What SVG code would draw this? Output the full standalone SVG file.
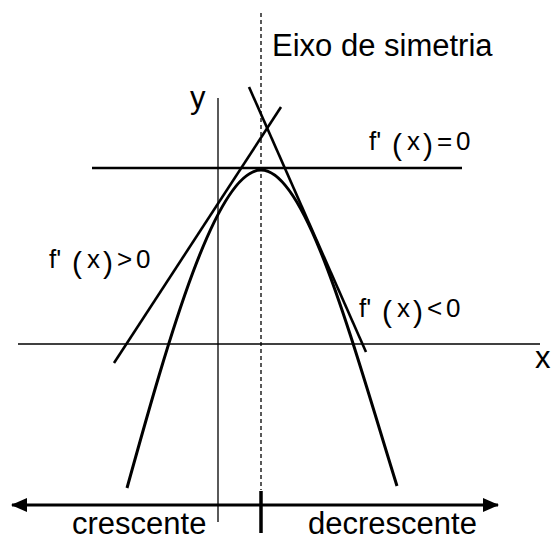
<svg xmlns="http://www.w3.org/2000/svg" width="552" height="540" viewBox="0 0 552 540">
<defs>
<style>
.axis{stroke:#000;stroke-width:1.3;fill:none}
.thick{stroke:#000;stroke-width:2.6;fill:none}
.curve{stroke:#000;stroke-width:3;fill:none}
.big{font-family:"Liberation Sans",Arial,sans-serif;font-size:31px;fill:#000}
.m{font-family:"Liberation Sans",Arial,sans-serif;font-size:26px;fill:#000}
.p{font-family:"Liberation Sans",Arial,sans-serif;font-size:30px;fill:#000}
</style>
<marker id="ah" viewBox="0 0 16 14" refX="15" refY="7" markerWidth="16" markerHeight="14" markerUnits="userSpaceOnUse" orient="auto-start-reverse">
<path d="M0,0 L16,7 L0,14 Z" fill="#000"/>
</marker>
</defs>
<rect width="552" height="540" fill="#fff"/>
<g id="axes">
<line class="axis" x1="18" y1="344" x2="540" y2="344"/>
<line class="axis" x1="218" y1="98" x2="218" y2="522"/>
</g>
<g id="symmetry-axis">
<line x1="261" y1="13" x2="261" y2="490" stroke="#000" stroke-width="1.3" stroke-dasharray="4,3"/>
<line x1="261" y1="491" x2="261" y2="533" stroke="#000" stroke-width="3.5"/>
</g>
<g id="parabola">
<path class="curve" d="M127,488 C168.7,338 216,170 261,170 C306,170 350.5,336 397,486"/>
</g>
<g id="connectors">
<line class="thick" x1="92" y1="168" x2="462" y2="168"/>
<line class="thick" x1="114" y1="363" x2="281" y2="107"/>
<line class="thick" x1="249" y1="87" x2="366" y2="352"/>
<line x1="12" y1="505" x2="498" y2="505" stroke="#000" stroke-width="3" marker-start="url(#ah)" marker-end="url(#ah)"/>
</g>
<g id="labels">
<text class="big" x="272" y="56">Eixo de simetria</text>
<text class="big" x="190" y="108">y</text>
<text class="big" x="535" y="368">x</text>
<text class="big" x="72" y="534">crescente</text>
<text class="big" x="308" y="534">decrescente</text>
</g>
<g id="label-zero">
<text class="m" x="369" y="150">f'</text><text class="p" x="392" y="155">(</text><text class="m" x="407" y="150">x</text><text class="p" x="423" y="155">)</text><text class="m" x="437" y="150">=</text><text class="m" x="456" y="150">0</text>
</g>
<g id="label-pos">
<text class="m" x="49" y="268">f'</text><text class="p" x="72" y="273">(</text><text class="m" x="87" y="268">x</text><text class="p" x="103" y="273">)</text><text class="m" x="117" y="268">&gt;</text><text class="m" x="136" y="268">0</text>
</g>
<g id="label-neg">
<text class="m" x="359" y="317">f'</text><text class="p" x="382" y="322">(</text><text class="m" x="397" y="317">x</text><text class="p" x="413" y="322">)</text><text class="m" x="427" y="317">&lt;</text><text class="m" x="446" y="317">0</text>
</g>
</svg>
